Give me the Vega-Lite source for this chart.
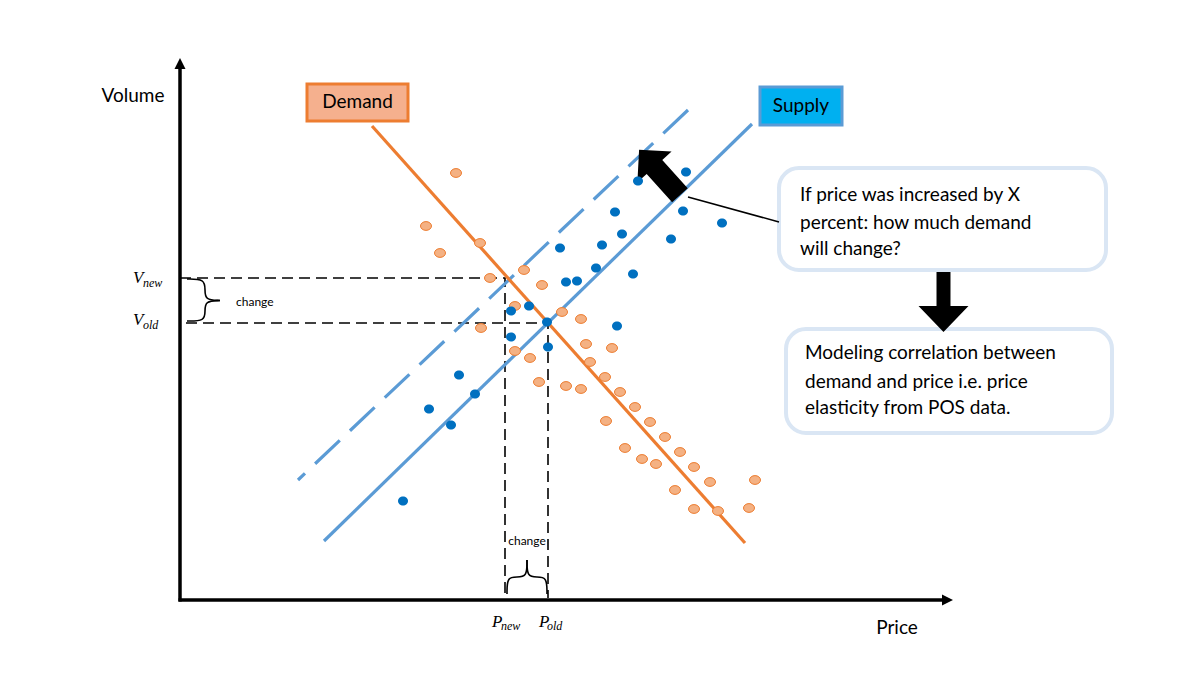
{
  "$schema": "https://vega.github.io/schema/vega-lite/v6.json",
  "width": 1200,
  "height": 675,
  "padding": 0,
  "autosize": {"type": "none"},
  "background": "white",
  "config": {"view": {"stroke": null}, "font": "Lato"},
  "datasets": {
    "supplyPoints": [
      {"p": 50.6, "v": 42.8}, {"p": 45.8, "v": 41.9}, {"p": 50.3, "v": 38.9}, {"p": 54.2, "v": 37.7},
      {"p": 43.5, "v": 38.8}, {"p": 44.2, "v": 36.6}, {"p": 42.2, "v": 35.5}, {"p": 49.1, "v": 36.1},
      {"p": 38.0, "v": 35.2}, {"p": 41.6, "v": 33.2}, {"p": 45.3, "v": 32.6}, {"p": 38.6, "v": 31.8},
      {"p": 39.7, "v": 31.9}, {"p": 34.9, "v": 29.4}, {"p": 33.1, "v": 28.9}, {"p": 36.7, "v": 27.8},
      {"p": 43.7, "v": 27.4}, {"p": 33.1, "v": 26.3}, {"p": 36.8, "v": 25.3}, {"p": 27.9, "v": 22.5},
      {"p": 29.5, "v": 20.6}, {"p": 24.9, "v": 19.1}, {"p": 27.1, "v": 17.5}, {"p": 22.3, "v": 9.9}
    ],
    "demandPoints": [
      {"p": 27.6, "v": 42.7}, {"p": 24.6, "v": 37.4}, {"p": 30.0, "v": 35.7}, {"p": 26.0, "v": 34.7},
      {"p": 31.0, "v": 32.2}, {"p": 34.4, "v": 33.0}, {"p": 36.2, "v": 31.5}, {"p": 33.5, "v": 29.4},
      {"p": 38.2, "v": 28.8}, {"p": 40.1, "v": 28.1}, {"p": 30.1, "v": 27.2}, {"p": 33.5, "v": 24.9},
      {"p": 35.0, "v": 24.2}, {"p": 40.6, "v": 25.6}, {"p": 43.2, "v": 25.2}, {"p": 41.0, "v": 23.8},
      {"p": 42.5, "v": 22.3}, {"p": 35.9, "v": 21.8}, {"p": 38.6, "v": 21.4}, {"p": 40.1, "v": 21.1},
      {"p": 44.0, "v": 20.8}, {"p": 45.5, "v": 19.3}, {"p": 42.6, "v": 17.9}, {"p": 47.0, "v": 17.8},
      {"p": 48.5, "v": 16.3}, {"p": 44.5, "v": 15.2}, {"p": 46.2, "v": 14.1}, {"p": 47.6, "v": 13.6},
      {"p": 50.0, "v": 14.8}, {"p": 51.4, "v": 13.3}, {"p": 53.0, "v": 11.8}, {"p": 57.5, "v": 12.0},
      {"p": 49.5, "v": 11.0}, {"p": 51.4, "v": 9.1}, {"p": 53.8, "v": 8.9}, {"p": 56.9, "v": 9.2}
    ],
    "curves": [
      {"id": "demand", "i": 0, "p": 19.2, "v": 47.4}, {"id": "demand", "i": 1, "p": 56.5, "v": 5.7},
      {"id": "supply", "i": 0, "p": 14.4, "v": 5.9}, {"id": "supply", "i": 1, "p": 57.2, "v": 47.6},
      {"id": "shifted", "i": 0, "p": 50.8, "v": 49.0}, {"id": "shifted", "i": 1, "p": 11.8, "v": 12.0},
      {"id": "g1", "i": 0, "p": 0.0, "v": 32.2}, {"id": "g1", "i": 1, "p": 32.5, "v": 32.2}, {"id": "g1", "i": 2, "p": 32.5, "v": 0.2},
      {"id": "g2", "i": 0, "p": 0.6, "v": 27.7}, {"id": "g2", "i": 1, "p": 36.8, "v": 27.7}, {"id": "g2", "i": 2, "p": 36.8, "v": 0.2},
      {"id": "yaxis", "i": 0, "p": 0.0, "v": -0.15}, {"id": "yaxis", "i": 1, "p": 0.0, "v": 53.4},
      {"id": "xaxis", "i": 0, "p": -0.15, "v": 0.0}, {"id": "xaxis", "i": 1, "p": 76.3, "v": 0.0},
      {"id": "callout", "i": 0, "p": 50.8, "v": 40.3}, {"id": "callout", "i": 1, "p": 59.9, "v": 37.8},
      {"id": "b1", "i": 0, "p": 0.7, "v": 32.1}, {"id": "b1", "i": 1, "p": 2.5, "v": 32.1}, {"id": "b1", "i": 2, "p": 2.5, "v": 31.0}, {"id": "b1", "i": 3, "p": 2.5, "v": 30.0}, {"id": "b1", "i": 4, "p": 4.0, "v": 29.95},
      {"id": "b2", "i": 0, "p": 4.0, "v": 29.95}, {"id": "b2", "i": 1, "p": 2.5, "v": 29.9}, {"id": "b2", "i": 2, "p": 2.5, "v": 28.9}, {"id": "b2", "i": 3, "p": 2.5, "v": 27.9}, {"id": "b2", "i": 4, "p": 0.7, "v": 27.9},
      {"id": "b3", "i": 0, "p": 32.7, "v": 0.6}, {"id": "b3", "i": 1, "p": 32.7, "v": 2.3}, {"id": "b3", "i": 2, "p": 33.7, "v": 2.3}, {"id": "b3", "i": 3, "p": 34.7, "v": 2.3}, {"id": "b3", "i": 4, "p": 34.7, "v": 4.0},
      {"id": "b4", "i": 0, "p": 34.7, "v": 4.0}, {"id": "b4", "i": 1, "p": 34.7, "v": 2.3}, {"id": "b4", "i": 2, "p": 35.7, "v": 2.3}, {"id": "b4", "i": 3, "p": 36.7, "v": 2.3}, {"id": "b4", "i": 4, "p": 36.7, "v": 0.6}
    ],
    "boxes": [
      {"name": "box1", "p1": 59.9, "p2": 92.6, "v1": 43.2, "v2": 33.0},
      {"name": "box2", "p1": 60.6, "p2": 93.2, "v1": 27.1, "v2": 16.7},
      {"name": "Demand", "p1": 12.7, "p2": 22.8, "v1": 51.6, "v2": 47.9},
      {"name": "Supply", "p1": 58.0, "p2": 66.2, "v1": 51.3, "v2": 47.5}
    ],
    "glyphs": [
      {"name": "bigArrow", "p": 47.95, "v": 42.75},
      {"name": "downArrow", "p": 76.35, "v": 29.8},
      {"name": "yHead", "p": 0.0, "v": 53.65},
      {"name": "xHead", "p": 76.75, "v": 0.0}
    ],
    "labels": [
      {"t": "Volume", "p": -4.7, "v": 50.4},
      {"t": "Price", "p": 71.7, "v": -2.8},
      {"t": "Demand", "p": 17.75, "v": 49.8},
      {"t": "Supply", "p": 62.1, "v": 49.45}
    ],
    "smallLabels": [
      {"t": "change", "p": 5.6, "v": 29.8, "a": "left"},
      {"t": "change", "p": 34.7, "v": 5.9, "a": "center"}
    ],
    "boxText": [
      {"t": "If price was increased by X", "p": 62.0, "v": 40.5},
      {"t": "percent: how much demand", "p": 62.0, "v": 37.7},
      {"t": "will change?", "p": 62.0, "v": 35.1},
      {"t": "Modeling correlation between", "p": 62.5, "v": 24.7},
      {"t": "demand and price i.e. price", "p": 62.5, "v": 21.8},
      {"t": "elasticity from POS data.", "p": 62.5, "v": 19.2}
    ],
    "mathMain": [
      {"t": "V", "p": -4.7, "v": 31.7}, {"t": "V", "p": -4.7, "v": 27.5},
      {"t": "P", "p": 31.2, "v": -2.7}, {"t": "P", "p": 35.9, "v": -2.7}
    ],
    "mathSub": [
      {"t": "new", "p": -3.7, "v": 31.3}, {"t": "old", "p": -3.7, "v": 27.1},
      {"t": "new", "p": 32.1, "v": -3.0}, {"t": "old", "p": 36.7, "v": -3.0}
    ]
  },
  "encoding": {
    "x": {"field": "p", "type": "quantitative", "scale": {"domain": [-18, 102], "nice": false, "zero": false}, "axis": null},
    "y": {"field": "v", "type": "quantitative", "scale": {"domain": [-7.5, 60], "nice": false, "zero": false}, "axis": null}
  },
  "layer": [
    {
      "data": {"name": "boxes"},
      "transform": [{"filter": {"field": "name", "oneOf": ["box1", "box2"]}}],
      "mark": {"type": "rect", "cornerRadius": 20, "fill": "white", "stroke": "#DAE6F4", "strokeWidth": 4},
      "encoding": {
        "x": {"field": "p1", "type": "quantitative", "scale": {"domain": [-18, 102], "nice": false, "zero": false}, "axis": null},
        "x2": {"field": "p2"},
        "y": {"field": "v1", "type": "quantitative", "scale": {"domain": [-7.5, 60], "nice": false, "zero": false}, "axis": null},
        "y2": {"field": "v2"}
      }
    },
    {
      "data": {"name": "boxes"},
      "transform": [{"filter": {"field": "name", "equal": "Demand"}}],
      "mark": {"type": "rect", "fill": "#F5B08E", "stroke": "#ED7D31", "strokeWidth": 3},
      "encoding": {
        "x": {"field": "p1", "type": "quantitative", "scale": {"domain": [-18, 102], "nice": false, "zero": false}, "axis": null},
        "x2": {"field": "p2"},
        "y": {"field": "v1", "type": "quantitative", "scale": {"domain": [-7.5, 60], "nice": false, "zero": false}, "axis": null},
        "y2": {"field": "v2"}
      }
    },
    {
      "data": {"name": "boxes"},
      "transform": [{"filter": {"field": "name", "equal": "Supply"}}],
      "mark": {"type": "rect", "fill": "#00B0F0", "stroke": "#5B9BD5", "strokeWidth": 3},
      "encoding": {
        "x": {"field": "p1", "type": "quantitative", "scale": {"domain": [-18, 102], "nice": false, "zero": false}, "axis": null},
        "x2": {"field": "p2"},
        "y": {"field": "v1", "type": "quantitative", "scale": {"domain": [-7.5, 60], "nice": false, "zero": false}, "axis": null},
        "y2": {"field": "v2"}
      }
    },
    {
      "data": {"name": "curves"},
      "transform": [{"filter": {"field": "id", "oneOf": ["g1", "g2"]}}],
      "mark": {"type": "line", "color": "black", "strokeWidth": 1.6, "strokeDash": [11, 6]},
      "encoding": {"detail": {"field": "id"}, "order": {"field": "i", "type": "quantitative"}}
    },
    {
      "data": {"name": "curves"},
      "transform": [{"filter": {"field": "id", "equal": "shifted"}}],
      "mark": {"type": "line", "color": "#5B9BD5", "strokeWidth": 3.2, "strokeDash": [34, 14]},
      "encoding": {"detail": {"field": "id"}, "order": {"field": "i", "type": "quantitative"}}
    },
    {
      "data": {"name": "curves"},
      "transform": [{"filter": {"field": "id", "equal": "supply"}}],
      "mark": {"type": "line", "color": "#5B9BD5", "strokeWidth": 3.2},
      "encoding": {"detail": {"field": "id"}, "order": {"field": "i", "type": "quantitative"}}
    },
    {
      "data": {"name": "curves"},
      "transform": [{"filter": {"field": "id", "equal": "demand"}}],
      "mark": {"type": "line", "color": "#ED7D31", "strokeWidth": 3.2},
      "encoding": {"detail": {"field": "id"}, "order": {"field": "i", "type": "quantitative"}}
    },
    {
      "data": {"name": "curves"},
      "transform": [{"filter": {"field": "id", "oneOf": ["xaxis", "yaxis"]}}],
      "mark": {"type": "line", "color": "black", "strokeWidth": 3.5, "strokeCap": "butt"},
      "encoding": {"detail": {"field": "id"}, "order": {"field": "i", "type": "quantitative"}}
    },
    {
      "data": {"name": "curves"},
      "transform": [{"filter": {"field": "id", "equal": "callout"}}],
      "mark": {"type": "line", "color": "black", "strokeWidth": 1.5},
      "encoding": {"detail": {"field": "id"}, "order": {"field": "i", "type": "quantitative"}}
    },
    {
      "data": {"name": "curves"},
      "transform": [{"filter": {"field": "id", "oneOf": ["b1", "b2", "b3", "b4"]}}],
      "mark": {"type": "line", "color": "black", "strokeWidth": 1.6, "interpolate": "basis"},
      "encoding": {"detail": {"field": "id"}, "order": {"field": "i", "type": "quantitative"}}
    },
    {
      "data": {"name": "glyphs"},
      "transform": [{"filter": {"field": "name", "equal": "bigArrow"}}],
      "mark": {"type": "point", "filled": true, "color": "black", "opacity": 1, "size": 3721, "angle": 318,
        "shape": "M0,-1L0.754,-0.246L0.344,-0.246L0.344,1L-0.344,1L-0.344,-0.246L-0.754,-0.246Z"}
    },
    {
      "data": {"name": "glyphs"},
      "transform": [{"filter": {"field": "name", "equal": "downArrow"}}],
      "mark": {"type": "point", "filled": true, "color": "black", "opacity": 1, "size": 3600,
        "shape": "M-0.233,-1L0.233,-1L0.233,0.133L0.833,0.133L0,1L-0.833,0.133L-0.233,0.133Z"}
    },
    {
      "data": {"name": "glyphs"},
      "transform": [{"filter": {"field": "name", "equal": "yHead"}}],
      "mark": {"type": "point", "filled": true, "color": "black", "opacity": 1, "size": 121, "shape": "M0,-1L1,1L-1,1Z"}
    },
    {
      "data": {"name": "glyphs"},
      "transform": [{"filter": {"field": "name", "equal": "xHead"}}],
      "mark": {"type": "point", "filled": true, "color": "black", "opacity": 1, "size": 121, "shape": "M1,0L-1,1L-1,-1Z"}
    },
    {
      "data": {"name": "demandPoints"},
      "mark": {"type": "point", "filled": true, "fill": "#F4B183", "stroke": "#ED7D31", "strokeWidth": 1, "opacity": 1, "size": 121,
        "shape": "M-1,0A1,0.8 0 1,0 1,0A1,0.8 0 1,0 -1,0Z"}
    },
    {
      "data": {"name": "supplyPoints"},
      "mark": {"type": "point", "filled": true, "fill": "#0070C0", "strokeWidth": 0, "opacity": 1, "size": 100,
        "shape": "M-1,0A1,0.9 0 1,0 1,0A1,0.9 0 1,0 -1,0Z"}
    },
    {
      "data": {"name": "labels"},
      "mark": {"type": "text", "font": "Lato", "fontSize": 19, "color": "black", "align": "center", "baseline": "middle"},
      "encoding": {"text": {"field": "t"}}
    },
    {
      "data": {"name": "smallLabels"},
      "transform": [{"filter": {"field": "a", "equal": "left"}}],
      "mark": {"type": "text", "font": "Lato", "fontSize": 12, "color": "black", "align": "left", "baseline": "middle"},
      "encoding": {"text": {"field": "t"}}
    },
    {
      "data": {"name": "smallLabels"},
      "transform": [{"filter": {"field": "a", "equal": "center"}}],
      "mark": {"type": "text", "font": "Lato", "fontSize": 12, "color": "black", "align": "center", "baseline": "middle"},
      "encoding": {"text": {"field": "t"}}
    },
    {
      "data": {"name": "boxText"},
      "mark": {"type": "text", "font": "Lato", "fontSize": 19, "color": "black", "align": "left", "baseline": "middle"},
      "encoding": {"text": {"field": "t"}}
    },
    {
      "data": {"name": "mathMain"},
      "mark": {"type": "text", "font": "Liberation Serif", "fontStyle": "italic", "fontSize": 17, "color": "black", "align": "left", "baseline": "alphabetic"},
      "encoding": {"text": {"field": "t"}}
    },
    {
      "data": {"name": "mathSub"},
      "mark": {"type": "text", "font": "Liberation Serif", "fontStyle": "italic", "fontSize": 12, "color": "black", "align": "left", "baseline": "alphabetic"},
      "encoding": {"text": {"field": "t"}}
    }
  ]
}
